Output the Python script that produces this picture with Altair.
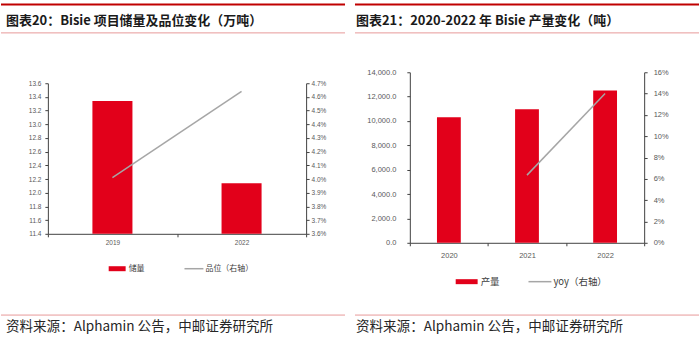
import altair as alt
import pandas as pd

# ---------------- data ----------------
left_years = ["2019", "2022"]
left_reserve = [13.34, 12.14]          # 储量 (万吨)
left_grade = [0.0401, 0.0464]          # 品位 (右轴)
left_y_ticks = [11.4, 11.6, 11.8, 12.0, 12.2, 12.4, 12.6, 12.8, 13.0, 13.2, 13.4, 13.6]
left_y2_ticks = [0.036, 0.037, 0.038, 0.039, 0.040, 0.041, 0.042, 0.043, 0.044, 0.045, 0.046, 0.047]

right_years = ["2020", "2021", "2022"]
right_output = [10310, 10965, 12500]   # 产量 (吨)
right_yoy = [None, 0.0635, 0.140]      # yoy (右轴)
right_y_ticks = [0, 2000, 4000, 6000, 8000, 10000, 12000, 14000]
right_y2_ticks = [0, 0.02, 0.04, 0.06, 0.08, 0.10, 0.12, 0.14, 0.16]

title_left = "图表20：Bisie 项目储量及品位变化（万吨）"
title_right = "图表21：2020-2022 年 Bisie 产量变化（吨）"
source_text = "资料来源：Alphamin 公告，中邮证券研究所"

# ---------------- style ----------------
RED = "#E2001A"
GRAY = "#A6A6A6"
AXIS = "#404040"
LABEL = "#595959"
CJK = "Noto Sans CJK SC"
LAT = "Liberation Sans"

L_W, R_W, H = 259, 235, 171

left_df = pd.DataFrame({"year": left_years, "reserve": left_reserve, "grade": left_grade})
right_df = pd.DataFrame({"year": right_years, "output": right_output, "yoy": right_yoy})

one = alt.Data(values=[{"a": 1}])


def hline(x1, x2, y, color, width, opacity=1.0):
    return alt.Chart(one).mark_rule(color=color, strokeWidth=width, opacity=opacity).encode(
        x=alt.value(x1), x2=alt.value(x2), y=alt.value(y))


def text(x, y, s, size, color="#1a1a1a", weight="normal", font=CJK):
    return alt.Chart(one).mark_text(align="left", baseline="middle", fontSize=size,
                                    font=font, color=color, fontWeight=weight).encode(
        x=alt.value(x), y=alt.value(y), text=alt.value(s))


def yaxis(orient, values, fmt, size, pad):
    return alt.Axis(orient=orient, values=values, format=fmt, title=None, grid=False,
                    labelFontSize=size, labelFont=LAT, labelColor=LABEL,
                    domainColor=AXIS, tickColor=AXIS, tickSize=3, labelPadding=pad)


def xaxis(size, pad, offset=0):
    return alt.Axis(orient="bottom", title=None, labelAngle=0, grid=False, tickBand="extent",
                    labelFontSize=size, labelFont=LAT, labelColor=LABEL,
                    domainColor=AXIS, tickColor=AXIS, tickSize=3, labelPadding=pad,
                    offset=offset)


# ---------------- left panel ----------------
lx = alt.X("year:N", scale=alt.Scale(paddingInner=0, paddingOuter=0),
           axis=xaxis(6.5, 3, offset=-9))
l_yscale = alt.Scale(domain=[11.4, 13.6], zero=False, nice=False, range=[162, 11])
l_y2scale = alt.Scale(domain=[0.036, 0.047], zero=False, nice=False, range=[162, 11])

left_bars = alt.Chart(left_df).mark_bar(color=RED, width=alt.RelativeBandSize(0.31)).encode(
    x=lx,
    y=alt.Y("reserve:Q", scale=l_yscale, axis=yaxis("left", left_y_ticks, ".1f", 6.5, 4)),
    y2=alt.datum(11.4),
)
left_line = alt.Chart(left_df).mark_line(color=GRAY, strokeWidth=1.5).encode(
    x=alt.X("year:N"),
    y=alt.Y("grade:Q", scale=l_y2scale, axis=yaxis("right", left_y2_ticks, ".1%", 6.5, 2)),
)

left_deco = [
    hline(-47, 653, -72, "#ffffff", 1, opacity=0),     # anchor at page origin
    hline(-47, 298, -68, "#C00000", 2),
    hline(-47, 298, -39.5, "#E79A9A", 1),
    hline(-47, 298, 243.5, "#E79A9A", 1),
    text(-42, -51, title_left, 13, weight="bold"),
    text(-42, 255, source_text, 13.6, color="#262626"),
    hline(61, 78, 197, RED, 5),
    text(81, 197, "储量", 8, color="#404040"),
    hline(137, 156, 197, GRAY, 1.5),
    text(158, 197, "品位（右轴）", 8, color="#404040"),
]

left = alt.layer(left_bars, left_line, *left_deco).resolve_scale(y="independent").properties(
    width=L_W, height=H)

# ---------------- right panel ----------------
rx = alt.X("year:N", scale=alt.Scale(paddingInner=0, paddingOuter=0), axis=xaxis(7.5, 6))

right_bars = alt.Chart(right_df).mark_bar(color=RED, width=alt.RelativeBandSize(0.305)).encode(
    x=rx,
    y=alt.Y("output:Q", scale=alt.Scale(domain=[0, 14000], nice=False),
            axis=yaxis("left", right_y_ticks, ",.1f", 7.5, 11)),
)
right_line = alt.Chart(right_df).transform_filter("datum.yoy != null").mark_line(
    color=GRAY, strokeWidth=1.5).encode(
    x=alt.X("year:N"),
    y=alt.Y("yoy:Q", scale=alt.Scale(domain=[0, 0.16], nice=False),
            axis=yaxis("right", right_y2_ticks, ".0%", 7.5, 6)),
)

right_deco = [
    hline(-55, 290, -68, "#C00000", 2),
    hline(-55, 290, -39.5, "#E79A9A", 1),
    hline(-55, 290, 243.5, "#E79A9A", 1),
    text(-54, -51, title_right, 13, weight="bold"),
    text(-54, 255, source_text, 13.6, color="#262626"),
    hline(46, 68, 210, RED, 5),
    text(71, 210, "产量", 9.5, color="#404040"),
    hline(119, 142, 210, GRAY, 1.5),
    text(144, 210, "yoy（右轴）", 9.5, color="#404040"),
]

right = alt.layer(right_bars, right_line, *right_deco).resolve_scale(y="independent").properties(
    width=R_W, height=H)

chart = alt.hconcat(left, right, spacing=104, bounds="flush").properties(
    padding=0, background="white"
).configure_view(stroke=None)

chart.save("out.html", embed_options={"renderer": "svg", "actions": False})
